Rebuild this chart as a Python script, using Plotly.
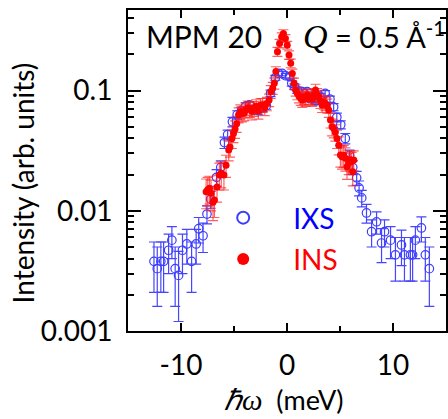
import plotly.graph_objects as go

# IXS (open blue circles)
ixs_x = [-12.55, -12.24, -11.9, -11.64, -11.17, -10.86, -10.55, -10.23, -9.86, -9.45,
         -9.0, -8.57, -8.33, -7.92, -7.55, -7.2, -6.65, -6.25, -5.9, -5.6,
         -5.15, -4.7, -4.3, -3.9, -3.55, -3.1, -2.7, -2.3, -1.95, -1.55,
         -1.1, -0.8, -0.45, -0.12, 0.25, 0.45, 0.7, 0.97, 1.44, 1.9,
         2.35, 2.75, 3.1, 3.6, 4.05, 4.4, 4.7, 5.07, 5.5, 5.9,
         6.2, 6.57, 6.8, 7.05, 7.5, 7.98, 8.45, 8.92, 9.2, 9.77,
         10.23, 10.8, 11.08, 11.64, 11.85, 12.11, 12.68, 13.05, 13.43]
ixs_y = [0.0038, 0.0033, 0.0038, 0.0038, 0.0047, 0.0057, 0.0033, 0.0029, 0.0047, 0.0053,
         0.0038, 0.0053, 0.0071, 0.0062, 0.0094, 0.0125, 0.019, 0.023, 0.037, 0.043,
         0.055, 0.063, 0.068, 0.074, 0.076, 0.070, 0.068, 0.072, 0.075, 0.095,
         0.128, 0.139, 0.139, 0.133, 0.131, 0.115, 0.108, 0.101, 0.098, 0.098,
         0.085, 0.082, 0.090, 0.095, 0.085, 0.073, 0.060, 0.052, 0.040, 0.029,
         0.023, 0.0188, 0.0155, 0.0128, 0.0096, 0.0067, 0.0081, 0.0054, 0.0067, 0.0057,
         0.0043, 0.0052, 0.0043, 0.0043, 0.0043, 0.0057, 0.0072, 0.0043, 0.0033]
ixs_err = [0.0017, 0.0017, 0.0017, 0.0017, 0.0017, 0.0017, 0.0017, 0.0017, 0.0017, 0.0017,
           0.0017, 0.0017, 0.0017, 0.0017, 0.0016, 0.002, 0.003, 0.003, 0.004, 0.004,
           0.005, 0.005, 0.005, 0.005, 0.005, 0.005, 0.005, 0.005, 0.005, 0.006,
           0.006, 0.006, 0.006, 0.006, 0.006, 0.006, 0.006, 0.006, 0.005, 0.005,
           0.005, 0.005, 0.005, 0.005, 0.005, 0.005, 0.005, 0.004, 0.004, 0.003,
           0.003, 0.0025, 0.0022, 0.002, 0.0017, 0.0017, 0.0017, 0.0017, 0.0017, 0.0017,
           0.0017, 0.0017, 0.0017, 0.0017, 0.0017, 0.0017, 0.0017, 0.0017, 0.0017]

# INS (filled red circles)
ins_x = [-7.63, -7.48, -7.32, -7.17, -6.98, -6.85, -6.6, -6.38, -6.2, -5.95,
         -5.75, -5.5, -5.38, -5.2, -5.05, -4.9, -4.75, -4.57, -4.4, -4.25,
         -4.05, -3.88, -3.7, -3.5, -3.3, -3.1, -2.9, -2.7, -2.5, -2.3,
         -2.1, -1.9, -1.69, -1.53, -1.35, -1.2, -1.05, -0.9, -0.7, -0.5,
         -0.34, -0.15, 0.02, 0.19, 0.35, 0.5, 0.66, 0.82, 0.97, 1.13,
         1.29, 1.44, 1.6, 1.75, 1.91, 2.07, 2.23, 2.38, 2.54, 2.69,
         2.85, 3.0, 3.15, 3.31, 3.47, 3.63, 3.8, 3.94, 4.1, 4.25,
         4.41, 4.56, 4.72, 4.88, 5.04, 5.19, 5.35, 5.51, 5.66, 5.82,
         5.98, 6.1, 6.2, 6.3]
ins_y = [0.0144, 0.0150, 0.0154, 0.0140, 0.0118, 0.0123, 0.0158, 0.0199, 0.0205, 0.0199,
         0.024, 0.032, 0.034, 0.040, 0.044, 0.048, 0.053, 0.063, 0.067, 0.064,
         0.065, 0.069, 0.072, 0.070, 0.067, 0.071, 0.074, 0.068, 0.076, 0.076,
         0.072, 0.078, 0.0835, 0.098, 0.105, 0.115, 0.144, 0.211, 0.247, 0.281,
         0.299, 0.272, 0.239, 0.198, 0.169, 0.139, 0.115, 0.101, 0.095, 0.090,
         0.0863, 0.0836, 0.088, 0.085, 0.0918, 0.088, 0.0863, 0.085, 0.0918, 0.101,
         0.093, 0.089, 0.082, 0.0758, 0.080, 0.0783, 0.075, 0.069, 0.0569, 0.050,
         0.0485, 0.045, 0.040, 0.0352, 0.0291, 0.0282, 0.029, 0.0274, 0.0233, 0.025,
         0.0265, 0.0257, 0.0211, 0.0265]
ins_err = [0.004, 0.004, 0.004, 0.004, 0.0035, 0.0035, 0.004, 0.005, 0.005, 0.005,
           0.005, 0.006, 0.006, 0.007, 0.007, 0.008, 0.008, 0.009, 0.009, 0.009,
           0.009, 0.010, 0.010, 0.010, 0.010, 0.010, 0.010, 0.010, 0.010, 0.010,
           0.010, 0.010, 0.010, 0.012, 0.012, 0.012, 0.014, 0.018, 0.020, 0.022,
           0.022, 0.020, 0.018, 0.016, 0.014, 0.012, 0.012, 0.011, 0.011, 0.011,
           0.011, 0.011, 0.011, 0.011, 0.011, 0.011, 0.011, 0.011, 0.011, 0.012,
           0.011, 0.011, 0.011, 0.010, 0.010, 0.010, 0.010, 0.009, 0.008, 0.008,
           0.008, 0.007, 0.007, 0.006, 0.006, 0.006, 0.006, 0.006, 0.005, 0.005,
           0.005, 0.005, 0.005, 0.005]

y_tick_vals = [0.001, 0.01, 0.1]
y_tick_text = ["0.001", "0.01", "0.1"]
y_minor_vals = [m * d for d in [0.001, 0.01, 0.1] for m in range(2, 10)]
x_tick_vals = [-10, 0, 10]
x_tick_text = ["-10", "0", "10"]

FONT = "Lato"

fig = go.Figure()
fig.add_trace(go.Scatter(
    x=ixs_x, y=ixs_y, mode="markers", name="<span style='color:#0000ff'>IXS</span>",
    legendgroup="a",
    marker=dict(symbol="circle-open", size=8.5, color="#3c3cff", line=dict(width=1.2)),
    error_y=dict(type="data", array=ixs_err, color="#4646ff", thickness=1.2, width=5),
))
fig.add_trace(go.Scatter(
    x=ins_x, y=ins_y, mode="markers", name="<span style='color:#ff0000'>INS</span>",
    legendgroup="b",
    marker=dict(symbol="circle", size=7, color="#ff0000"),
    error_y=dict(type="data", array=ins_err, color="rgba(255,30,30,0.7)", thickness=1.2, width=5),
))

fig.update_layout(
    width=448, height=419,
    margin=dict(l=128, r=0, t=10, b=88),
    paper_bgcolor="white", plot_bgcolor="white",
    font=dict(family=FONT, size=28, color="black"),
    showlegend=True,
    legend=dict(x=0.205, y=0.43, xanchor="left", yanchor="top",
                bgcolor="rgba(0,0,0,0)", font=dict(size=28),
                itemwidth=90, itemsizing="constant", tracegroupgap=2),
    annotations=[
        dict(text="MPM 20", xref="paper", yref="paper", x=0.05, y=0.92,
             xanchor="left", yanchor="middle", showarrow=False,
             font=dict(size=30, family=FONT)),
        dict(text="<span style='font-family:\"Liberation Serif\";font-style:italic;font-size:34px'>Q</span> = 0.5 Å<sup>-1</sup>",
             xref="paper", yref="paper", x=0.545, y=0.92,
             xanchor="left", yanchor="middle", showarrow=False,
             font=dict(size=29, family=FONT)),
        dict(text="Intensity (arb. units)", xref="paper", yref="paper",
             x=-0.33, y=0.46, textangle=-90, xanchor="center", yanchor="middle",
             showarrow=False, font=dict(size=28, family=FONT)),
        dict(text="<span style='font-family:\"Liberation Serif\";font-style:italic;font-size:29px'>ℏω</span>  (meV)",
             xref="paper", yref="paper", x=0.49, y=-0.212, xanchor="center", yanchor="middle",
             showarrow=False, font=dict(size=27, family=FONT)),
    ],
)
fig.update_xaxes(
    range=[-15, 15], tickmode="array", tickvals=x_tick_vals, ticktext=x_tick_text,
    ticks="inside", ticklen=8, tickwidth=1.5, tickcolor="black",
    minor=dict(ticks="inside", ticklen=5, tickwidth=1.5, tickcolor="black", dtick=5),
    showline=True, linewidth=2, linecolor="black", mirror="allticks",
    showgrid=False, zeroline=False, ticklabelstandoff=8,
)
fig.update_yaxes(
    type="log", range=[-3, -0.329], tickmode="array", tickvals=y_tick_vals, ticktext=y_tick_text,
    ticks="inside", ticklen=13, tickwidth=1.5, tickcolor="black",
    minor=dict(ticks="inside", ticklen=6, tickwidth=1.5, tickcolor="black", tickvals=y_minor_vals),
    showline=True, linewidth=2, linecolor="black", mirror="allticks",
    showgrid=False, zeroline=False, ticklabelstandoff=8,
)

fig.write_html("out.html")
